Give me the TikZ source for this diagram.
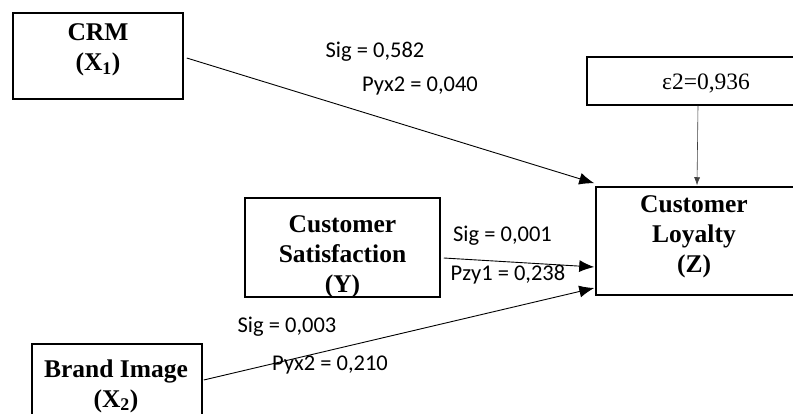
\documentclass[tikz,border=0pt]{standalone}
\usepackage{fontspec}
\setmainfont{Liberation Serif}
\newfontfamily\labfont{Carlito}
\usetikzlibrary{arrows.meta,calc}
\tikzset{
  boxshape/.style={draw, line width=1.5pt, rectangle, inner sep=0pt},
  boxtext/.style={font=\fontsize{25.5}{30}\selectfont\bfseries, align=center, inner sep=0pt},
  pathlab/.style={font=\labfont\fontsize{22.5}{27}\selectfont, anchor=base, inner sep=0pt},
  bigarrow/.style={line width=0.9pt, -{Latex[length=15pt,width=12pt]}},
  smallarrow/.style={line width=0.6pt, draw=black!75, -{Latex[length=8pt,width=6pt]}}
}
\begin{document}
\begin{tikzpicture}[x=1pt,y=-1pt]
\clip (0,0) rectangle (793,414);
\fill[white] (0,0) rectangle (793,414);
% boxes
\node[boxshape, minimum width=170pt, minimum height=86pt] (crm) at (98,56) {};
\node[boxshape, minimum width=213pt, minimum height=48pt] (eps) at (693.5,81) {};
\node[boxshape, minimum width=204pt, minimum height=108pt] (loy) at (698,241) {};
\node[boxshape, minimum width=195pt, minimum height=99pt] (cs) at (342.5,247.5) {};
\node[boxshape, minimum width=170pt, minimum height=80pt] (brand) at (117,384) {};
% box texts
\node[boxtext] (crmt) at (98,50) {CRM\\(X\textsubscript{1})};
\node[boxtext] (cst) at (342.5,257) {Customer\\Satisfaction\\(Y)};
\node[boxtext] (loyt) at (694,237) {Customer\\Loyalty\\(Z)};
\node[boxtext] (brandt) at (116,386) {Brand Image\\(X\textsubscript{2})};
\node[font=\fontsize{23.5}{28}\selectfont, anchor=base, inner sep=0pt] (epst) at (706,90) {ε2=0,936};
% connectors
\draw[bigarrow] ($(crm.east)+(3,2)$) -- ($(loy.north west)+(-1,-3)$);
\draw[bigarrow] ($(cs.east)+(3,10.5)$) -- ($(loy.west)+(-1,26)$);
\draw[bigarrow] ($(brand.east)+(1,-4)$) -- ($(loy.west)+(-1,47)$);
\draw[smallarrow] ($(eps.south)+(4.5,0)$) -- ($(loy.north)+(-1,-1)$);
% path labels
\node[pathlab] (l1) at (375,58) {Sig = 0,582};
\node[pathlab] (l2) at (420,92) {Pyx2 = 0,040};
\node[pathlab] (l3) at (502.5,242) {Sig = 0,001};
\node[pathlab] (l4) at (508,280) {Pzy1 = 0,238};
\node[pathlab] (l5) at (287,333) {Sig = 0,003};
\node[pathlab] (l6) at (330,370) {Pyx2 = 0,210};
\end{tikzpicture}
\end{document}
